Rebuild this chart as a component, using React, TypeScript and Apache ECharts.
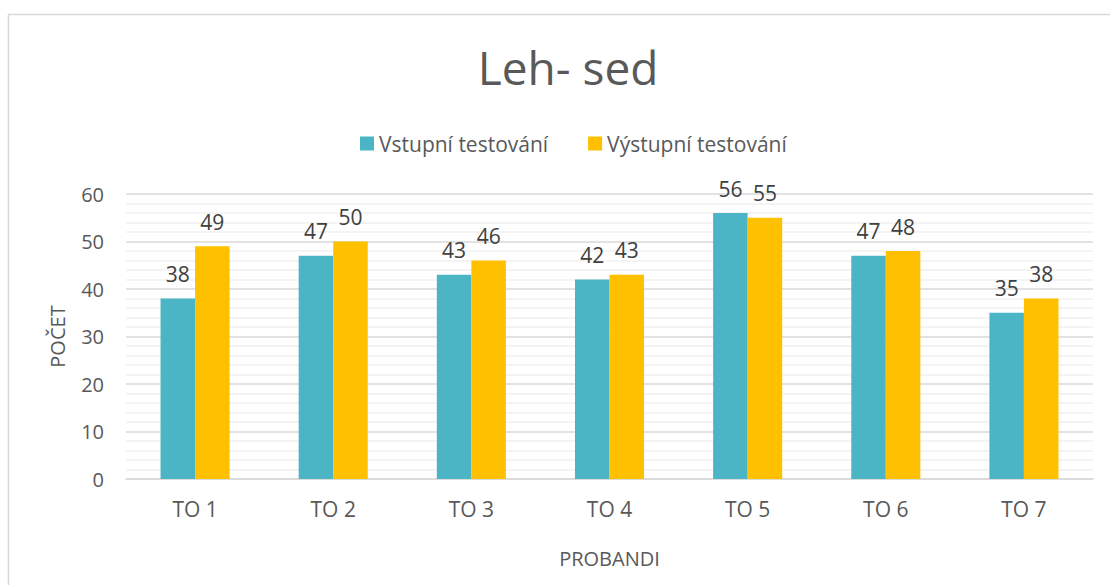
import React, { useEffect, useRef } from "react";
import * as echarts from "echarts";

const categories = ["TO 1", "TO 2", "TO 3", "TO 4", "TO 5", "TO 6", "TO 7"];
const vstupni = [38, 47, 43, 42, 56, 47, 35];
const vystupni = [49, 50, 46, 43, 55, 48, 38];
const seriesNames = ["Vstupní testování", "Výstupní testování"];
const titleText = "Leh- sed";
const yName = "POČET";
const xName = "PROBANDI";

const FONT = "'Open Sans', sans-serif";
const TXT = "#595959";

export default function App() {
  const ref = useRef<HTMLDivElement>(null);
  useEffect(() => {
    const chart = echarts.init(ref.current!, null, { renderer: "svg" });
    chart.setOption({
      animation: false,
      textStyle: { fontFamily: FONT },
      graphic: [
        {
          type: "rect",
          shape: { x: 8.5, y: 14.5, width: 1200, height: 700 },
          style: { fill: "none", stroke: "#D9D9D9", lineWidth: 1.5 },
          silent: true,
        },
      ],
      title: {
        text: titleText,
        left: 563,
        textAlign: "center",
        top: 39,
        textStyle: { fontFamily: FONT, fontSize: 46, fontWeight: "normal", color: TXT },
      },
      legend: {
        top: 128,
        left: 355,
        itemWidth: 14,
        itemHeight: 14,
        itemGap: 40,
        icon: "rect",
        textStyle: { fontFamily: FONT, fontSize: 21, color: TXT },
        data: seriesNames,
      },
      grid: { left: 126, right: 17, top: 194, bottom: 106 },
      xAxis: {
        type: "category",
        data: categories,
        name: xName,
        nameLocation: "middle",
        nameGap: 69,
        nameTextStyle: { fontFamily: FONT, fontSize: 20, color: TXT, verticalAlign: "top" },
        axisLine: { lineStyle: { color: "#D9D9D9", width: 1.5 } },
        axisTick: { show: false },
        axisLabel: { fontFamily: FONT, fontSize: 21, color: TXT, margin: 19 },
      },
      yAxis: {
        type: "value",
        min: 0,
        max: 60,
        interval: 10,
        name: yName,
        nameLocation: "middle",
        nameGap: 59,
        nameTextStyle: { fontFamily: FONT, fontSize: 20, color: TXT },
        axisLine: { show: false },
        axisTick: { show: false },
        axisLabel: { fontFamily: FONT, fontSize: 20, color: TXT, margin: 22 },
        splitLine: { lineStyle: { color: "#D9D9D9", width: 1.5 } },
        minorTick: { show: false, splitNumber: 5 },
        minorSplitLine: { show: true, lineStyle: { color: "#F0F0F0", width: 1.5 } },
      },
      series: [
        {
          name: seriesNames[0],
          type: "bar",
          data: vstupni,
          barWidth: "25%",
          barGap: "0%",
          itemStyle: { color: "#4BB5C6" },
          label: { show: true, position: "top", distance: 14, fontFamily: FONT, fontSize: 21, color: "#404040" },
        },
        {
          name: seriesNames[1],
          type: "bar",
          data: vystupni,
          barWidth: "25%",
          barGap: "0%",
          itemStyle: { color: "#FFC000" },
          label: { show: true, position: "top", distance: 14, fontFamily: FONT, fontSize: 21, color: "#404040" },
        },
      ],
    });
    return () => chart.dispose();
  }, []);
  return (
    <div
      ref={ref}
      style={{ position: "absolute", left: 0, top: 0, width: 1110, height: 585, background: "#fff" }}
    />
  );
}
